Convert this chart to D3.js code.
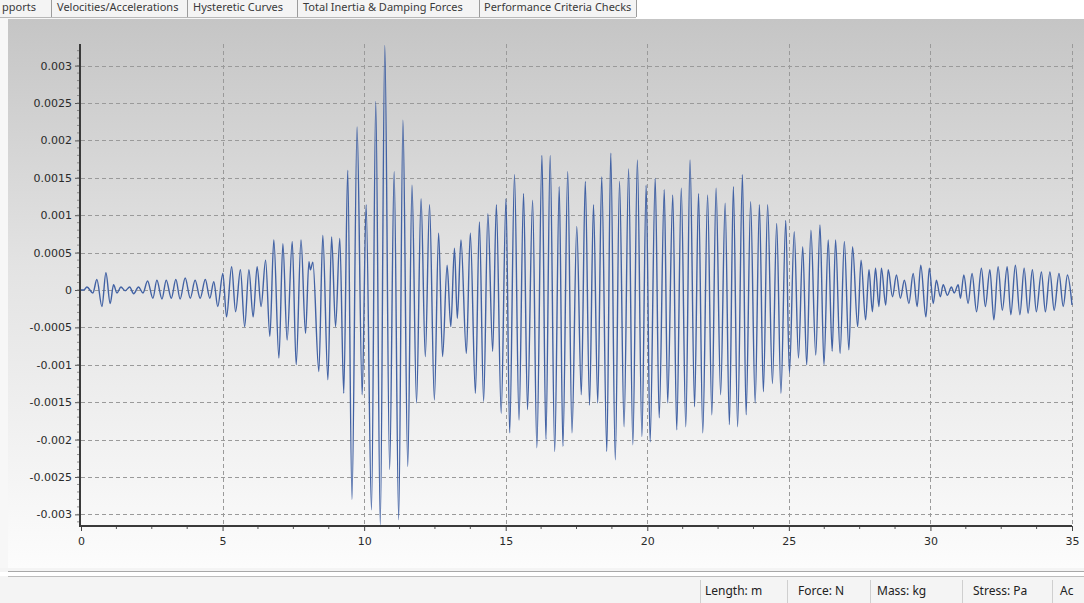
<!DOCTYPE html>
<html>
<head>
<meta charset="utf-8">
<script src="https://cdn.jsdelivr.net/npm/d3@7/dist/d3.min.js"></script>
<style>
  html, body { margin: 0; padding: 0; background: #ffffff; overflow: hidden; }
  svg { display: block; }
</style>
</head>
<body>
<svg id="chart" width="1084" height="603"></svg>
<script>
// Displacement time history: successive turning points (s, m)
const timeSec = [
  0.00, 0.10, 0.21, 0.42, 0.56, 0.74, 0.88, 1.03, 1.15, 1.27, 1.41, 1.56, 1.72, 1.86, 2.03, 2.19,
  2.35, 2.54, 2.68, 2.86, 3.01, 3.19, 3.35, 3.50, 3.68, 3.86, 4.03, 4.21, 4.39, 4.55, 4.69, 4.83,
  5.01, 5.14, 5.32, 5.46, 5.63, 5.78, 5.93, 6.08, 6.22, 6.36, 6.52, 6.67, 6.81, 6.99, 7.13, 7.28,
  7.46, 7.60, 7.77, 7.93, 8.05, 8.10, 8.19, 8.40, 8.54, 8.72, 8.85, 8.99, 9.14, 9.28, 9.42, 9.57,
  9.75, 9.93, 10.07, 10.26, 10.41, 10.57, 10.73, 10.90, 11.06, 11.22, 11.37, 11.54, 11.69, 11.85, 12.01, 12.16,
  12.31, 12.48, 12.63, 12.77, 12.93, 13.06, 13.19, 13.29, 13.42, 13.61, 13.75, 13.93, 14.07, 14.22, 14.37, 14.54,
  14.67, 14.84, 15.01, 15.14, 15.31, 15.47, 15.63, 15.77, 15.95, 16.10, 16.28, 16.42, 16.57, 16.73, 16.89, 17.02,
  17.19, 17.34, 17.51, 17.67, 17.81, 17.96, 18.10, 18.25, 18.39, 18.57, 18.71, 18.87, 19.02, 19.18, 19.34, 19.49,
  19.65, 19.81, 19.96, 20.10, 20.28, 20.42, 20.60, 20.72, 20.90, 21.04, 21.20, 21.36, 21.51, 21.67, 21.81, 21.96,
  22.13, 22.28, 22.43, 22.59, 22.75, 22.90, 23.04, 23.19, 23.36, 23.49, 23.65, 23.81, 23.96, 24.10, 24.25, 24.42,
  24.57, 24.72, 24.89, 25.02, 25.19, 25.34, 25.49, 25.63, 25.78, 25.95, 26.10, 26.24, 26.39, 26.53, 26.65, 26.81,
  26.96, 27.12, 27.25, 27.43, 27.55, 27.71, 27.83, 27.95, 28.06, 28.18, 28.27, 28.42, 28.51, 28.66, 28.80, 28.94,
  29.08, 29.24, 29.39, 29.53, 29.66, 29.84, 29.96, 30.10, 30.21, 30.35, 30.45, 30.60, 30.74, 30.84, 30.98, 31.06,
  31.18, 31.33, 31.47, 31.63, 31.80, 31.94, 32.10, 32.24, 32.39, 32.54, 32.71, 32.84, 33.00, 33.16, 33.31, 33.45,
  33.60, 33.74, 33.92, 34.06, 34.22, 34.37, 34.54, 34.69, 34.84, 35.00
];

const displacement = [
  0, 0, 0.00004, -0.00004, 0.00014, -0.00022, 0.00023, -0.00018, 0.00007, -0.00004, 0.00004, -0.00001, 0.00004, -0.00005, 0.00004, -0.00004,
  0.00012, -0.00011, 0.00013, -0.00012, 0.00013, -0.00011, 0.00014, -0.00012, 0.00016, -0.00011, 0.00013, -0.00011, 0.00014, -0.00011, 0.00011, -0.00022,
  0.00022, -0.00036, 0.00031, -0.00029, 0.00027, -0.00049, 0.00027, -0.00036, 0.00031, -0.00022, 0.00040, -0.00062, 0.00067, -0.00091, 0.00062, -0.00067,
  0.00065, -0.00100, 0.00067, -0.00058, 0.00038, 0.00027, 0.00037, -0.00109, 0.00073, -0.00120, 0.00071, -0.00049, 0.00069, -0.00138, 0.00160, -0.00280,
  0.00218, -0.00140, 0.00114, -0.00294, 0.00252, -0.00314, 0.00327, -0.00240, 0.00158, -0.00307, 0.00227, -0.00236, 0.00140, -0.00151, 0.00122, -0.00089,
  0.00114, -0.00147, 0.00076, -0.00089, 0.00033, -0.00049, 0.00056, -0.00038, 0.00067, -0.00085, 0.00076, -0.00138, 0.00091, -0.00149, 0.00102, -0.00082,
  0.00114, -0.00165, 0.00122, -0.00191, 0.00154, -0.00174, 0.00129, -0.00160, 0.00120, -0.00211, 0.00180, -0.00200, 0.00180, -0.00216, 0.00138, -0.00209,
  0.00158, -0.00191, 0.00085, -0.00140, 0.00145, -0.00154, 0.00114, -0.00151, 0.00151, -0.00216, 0.00183, -0.00227, 0.00145, -0.00183, 0.00162, -0.00207,
  0.00174, -0.00196, 0.00140, -0.00203, 0.00149, -0.00171, 0.00134, -0.00151, 0.00127, -0.00187, 0.00136, -0.00183, 0.00174, -0.00156, 0.00129, -0.00191,
  0.00127, -0.00167, 0.00136, -0.00140, 0.00116, -0.00180, 0.00138, -0.00183, 0.00154, -0.00167, 0.00118, -0.00151, 0.00114, -0.00136, 0.00114, -0.00125,
  0.00089, -0.00138, 0.00093, -0.00111, 0.00078, -0.00091, 0.00058, -0.00100, 0.00080, -0.00087, 0.00087, -0.00100, 0.00067, -0.00082, 0.00067, -0.00085,
  0.00065, -0.00080, 0.00058, -0.00049, 0.00040, -0.00040, 0.00027, -0.00029, 0.00029, -0.00022, 0.00029, -0.00020, 0.00027, -0.00009, 0.00020, -0.00011,
  0.00013, -0.00018, 0.00022, -0.00022, 0.00033, -0.00036, 0.00029, -0.00018, 0.00013, -0.00009, 0.00007, -0.00007, 0.00004, -0.00004, 0.00007, -0.00011,
  0.00020, -0.00018, 0.00022, -0.00029, 0.00029, -0.00022, 0.00027, -0.00040, 0.00031, -0.00027, 0.00031, -0.00033, 0.00033, -0.00033, 0.00029, -0.00031,
  0.00027, -0.00029, 0.00024, -0.00029, 0.00024, -0.00027, 0.00022, -0.00022, 0.00020, -0.00020
];

const yTickValues = [0.003, 0.0025, 0.002, 0.0015, 0.001, 0.0005, 0, -0.0005, -0.001, -0.0015, -0.002, -0.0025, -0.003];
const yTickLabels = ["0.003", "0.0025", "0.002", "0.0015", "0.001", "0.0005", "0", "-0.0005", "-0.001", "-0.0015", "-0.002", "-0.0025", "-0.003"];
const xTickValues = [0, 5, 10, 15, 20, 25, 30, 35];
const xTickLabels = ["0", "5", "10", "15", "20", "25", "30", "35"];

const tabLabels = ["pports", "Velocities/Accelerations", "Hysteretic Curves", "Total Inertia & Damping Forces", "Performance Criteria Checks"];
const statusLabels = ["Length: m", "Force: N", "Mass: kg", "Stress: Pa", "Ac"];

const points = timeSec.map((t, i) => ({ t, v: displacement[i] }));

const svg = d3.select("#chart");
const W = 1084, H = 603;

// ---- window chrome: tab strip ----
const defs = svg.append("defs");
const grad = defs.append("linearGradient").attr("id", "panelGrad")
  .attr("x1", 0).attr("y1", 0).attr("x2", 0).attr("y2", 1);
grad.append("stop").attr("offset", "0%").attr("stop-color", "#c5c5c5");
grad.append("stop").attr("offset", "45%").attr("stop-color", "#e3e3e3");
grad.append("stop").attr("offset", "100%").attr("stop-color", "#fcfcfc");

svg.append("rect").attr("x", 0).attr("y", 0).attr("width", W).attr("height", H).attr("fill", "#f7f7f7");
svg.append("rect").attr("x", 0).attr("y", 0).attr("width", 636).attr("height", 17).attr("fill", "#f4f4f4");
svg.append("rect").attr("x", 636).attr("y", 0).attr("width", W - 636).attr("height", 19).attr("fill", "#ffffff");

const tabX = [2, 57, 193, 303, 484];
const tabSep = [51, 187, 297, 479, 636];
const tabs = svg.append("g").attr("font-family", "'Noto Sans', 'Open Sans', sans-serif")
  .attr("font-size", 11).attr("fill", "#3a3a3a");
tabLabels.forEach((s, i) => {
  tabs.append("text").attr("x", tabX[i]).attr("y", 11).text(s);
});
tabSep.forEach(x => {
  svg.append("line").attr("x1", x + 0.5).attr("x2", x + 0.5).attr("y1", 0).attr("y2", 17)
    .attr("stroke", "#9c9c9c").attr("stroke-width", 1);
});
svg.append("line").attr("x1", 0).attr("x2", 636).attr("y1", 17.5).attr("y2", 17.5)
  .attr("stroke", "#b8b8b8");

// ---- chart panel ----
svg.append("rect").attr("x", 8).attr("y", 19).attr("width", W - 8).attr("height", 549)
  .attr("fill", "url(#panelGrad)");

const x = d3.scaleLinear().domain([0, 35]).range([81, 1072]);
const y = d3.scaleLinear().domain([-0.003142, 0.003289]).range([525, 44]);

// grid
const grid = svg.append("g").attr("stroke", "#9a9a9a").attr("stroke-width", 1)
  .attr("stroke-dasharray", "4,3").attr("fill", "none");
yTickValues.forEach(v => {
  const yy = Math.round(y(v)) + 0.5;
  grid.append("line").attr("x1", x(0)).attr("x2", x(35)).attr("y1", yy).attr("y2", yy);
});
xTickValues.slice(1).forEach(t => {
  const xx = Math.round(x(t)) + 0.5;
  grid.append("line").attr("x1", xx).attr("x2", xx).attr("y1", 44).attr("y2", 525);
});

// series line
const line = d3.line().x(d => x(d.t)).y(d => y(d.v)).curve(d3.curveMonotoneX);
svg.append("path").datum(points).attr("d", line)
  .attr("fill", "none").attr("stroke", "#4262a4").attr("stroke-width", 1.4)
  .attr("stroke-linejoin", "round");

// axes
const axisFont = "'DejaVu Sans', Verdana, sans-serif";
const yAxis = d3.axisLeft(y).tickValues(yTickValues)
  .tickFormat((d, i) => yTickLabels[i]).tickSize(5).tickPadding(3);
const gy = svg.append("g").attr("transform", "translate(80,0)").call(yAxis);
gy.select(".domain").remove();
gy.selectAll(".tick line").attr("stroke", "#555");
gy.selectAll("text").attr("font-family", axisFont).attr("font-size", 11).attr("fill", "#2a2a2a");

// minor ticks on the value axis
const yMinor = d3.range(-31, 33).map(k => k * 0.0001);
svg.append("g").selectAll("line").data(yMinor).join("line")
  .attr("x1", 77).attr("x2", 80).attr("y1", d => y(d)).attr("y2", d => y(d))
  .attr("stroke", "#777").attr("stroke-width", 0.8);

const xAxis = d3.axisBottom(x).tickValues(xTickValues)
  .tickFormat((d, i) => xTickLabels[i]).tickSize(5).tickPadding(6);
const gx = svg.append("g").attr("transform", "translate(0,526)").call(xAxis);
gx.select(".domain").remove();
gx.selectAll(".tick line").attr("stroke", "#444");
gx.selectAll("text").attr("font-family", axisFont).attr("font-size", 11).attr("fill", "#2a2a2a");

const xMinor = d3.range(0, 29).map(k => k * 1.25).filter(t => t % 5 !== 0);
svg.append("g").selectAll("line").data(xMinor).join("line")
  .attr("x1", d => x(d)).attr("x2", d => x(d)).attr("y1", 526).attr("y2", 529)
  .attr("stroke", "#555").attr("stroke-width", 1);

// axis lines
svg.append("line").attr("x1", 80).attr("x2", 80).attr("y1", 44).attr("y2", 527)
  .attr("stroke", "#3a3a3a").attr("stroke-width", 2);
svg.append("line").attr("x1", 79).attr("x2", 1072).attr("y1", 526).attr("y2", 526)
  .attr("stroke", "#3a3a3a").attr("stroke-width", 2);

// ---- status bar ----
svg.append("rect").attr("x", 0).attr("y", 568).attr("width", W).attr("height", 35).attr("fill", "#f4f4f4");
svg.append("line").attr("x1", 8).attr("x2", W).attr("y1", 571.5).attr("y2", 571.5).attr("stroke", "#a8a8a8");
svg.append("line").attr("x1", 8).attr("x2", W).attr("y1", 576.5).attr("y2", 576.5).attr("stroke", "#bcbcbc");
svg.append("rect").attr("x", 0).attr("y", 572).attr("width", W).attr("height", 4).attr("fill", "#ffffff");

const statusX = [705, 798, 877, 973, 1060];
const statusSep = [700, 787, 870, 962, 1052];
statusSep.forEach(sx => {
  svg.append("line").attr("x1", sx + 0.5).attr("x2", sx + 0.5).attr("y1", 580).attr("y2", 603)
    .attr("stroke", "#cfcfcf");
});
const st = svg.append("g").attr("font-family", "'Noto Sans', 'Open Sans', sans-serif")
  .attr("font-size", 12).attr("fill", "#222");
statusLabels.forEach((s, i) => {
  st.append("text").attr("x", statusX[i]).attr("y", 595).text(s);
});
</script>
</body>
</html>
